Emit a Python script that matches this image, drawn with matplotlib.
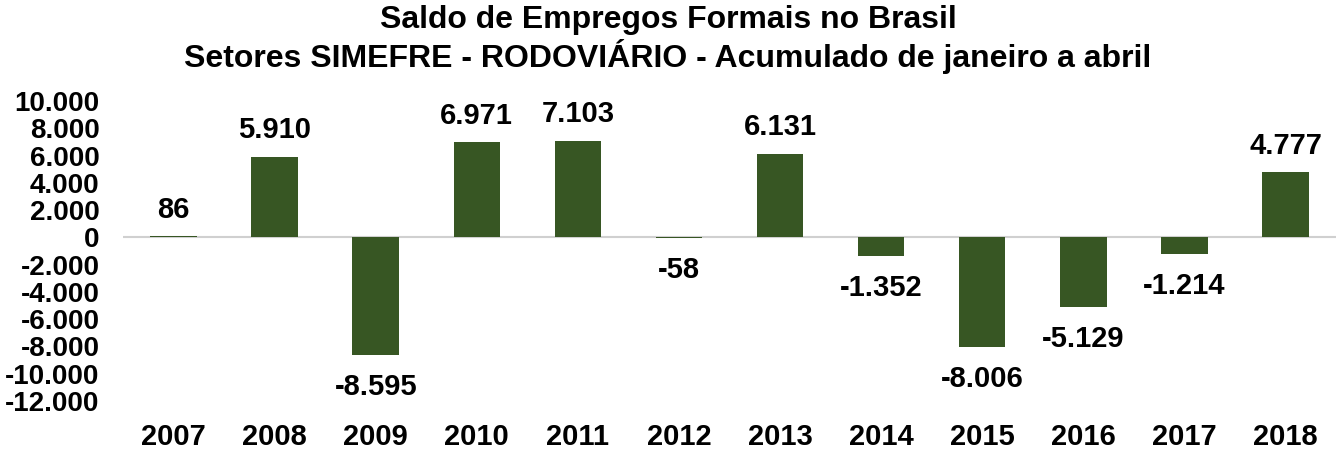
import numpy as np
import matplotlib.pyplot as plt
from matplotlib.ticker import FuncFormatter

plt.rcParams['font.family'] = ['Liberation Sans', 'DejaVu Sans']
plt.rcParams['font.weight'] = 'bold'

anos = ['2007', '2008', '2009', '2010', '2011', '2012', '2013', '2014', '2015', '2016', '2017', '2018']
saldo = [86, 5910, -8595, 6971, 7103, -58, 6131, -1352, -8006, -5129, -1214, 4777]


def ponto(v):
    # separador de milhar com ponto
    return f'{int(v):,}'.replace(',', '.')


fig = plt.figure(figsize=(13.36, 4.5), dpi=100)
ax = fig.add_axes([123 / 1336, 1 - 401 / 450, 1213 / 1336, 300 / 450])

x = np.arange(len(anos))
ax.bar(x, saldo, width=0.46, color='#375623', zorder=2)
ax.axhline(0, color='#d0d0d0', lw=1.5, zorder=1)

for xi, v in zip(x, saldo):
    if v >= 0:
        ax.annotate(ponto(v), (xi, v), xytext=(0, 9), textcoords='offset points',
                    ha='center', va='bottom', fontsize=21, fontweight='bold')
    else:
        ax.annotate(ponto(v), (xi, v), xytext=(0, -13), textcoords='offset points',
                    ha='center', va='top', fontsize=21, fontweight='bold')

ax.set_xlim(-0.5, len(anos) - 0.5)
ax.set_ylim(-12000, 10000)
ax.set_yticks(np.arange(-12000, 10001, 2000))
ax.yaxis.set_major_formatter(FuncFormatter(lambda v, p: ponto(v)))
ax.set_xticks(x)
ax.set_xticklabels(anos)
ax.tick_params(axis='y', length=0, labelsize=20, pad=17)
ax.tick_params(axis='x', length=0, labelsize=21, pad=16)
for s in ax.spines.values():
    s.set_visible(False)

fig.text(0.5, 1 - 20 / 450, 'Saldo de Empregos Formais no Brasil',
         ha='center', va='center', fontsize=23, fontweight='bold')
fig.text(0.5, 1 - 57 / 450, 'Setores SIMEFRE - RODOVIÁRIO - Acumulado de janeiro a abril',
         ha='center', va='center', fontsize=23, fontweight='bold')

plt.savefig('out.png', dpi=100)
